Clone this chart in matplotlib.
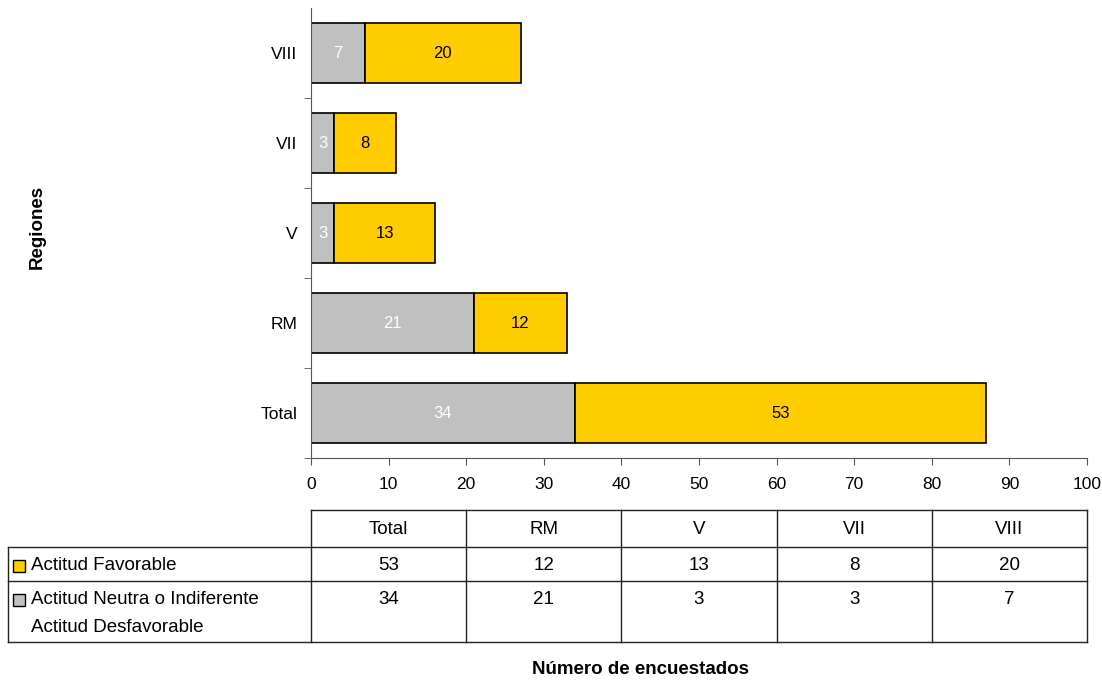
import matplotlib.pyplot as plt
import numpy as np

plt.rcParams['font.family'] = ['Liberation Sans', 'DejaVu Sans']

# datos
regiones = ['Total', 'RM', 'V', 'VII', 'VIII']
favorable = [53, 12, 13, 8, 20]
neutra = [34, 21, 3, 3, 7]
serie_fav = 'Actitud Favorable'
serie_neu = ['Actitud Neutra o Indiferente', 'Actitud Desfavorable']

c_fav = '#FFCC00'
c_neu = '#C0C0C0'

W, H = 1102, 680
fig = plt.figure(figsize=(W / 100, H / 100), dpi=100)

# ejes del gráfico (en píxeles)
x0, x1 = 311, 1087
y_top, y_bot = 8, 458
ax = fig.add_axes([x0 / W, 1 - y_bot / H, (x1 - x0) / W, (y_bot - y_top) / H])

pos = np.arange(len(regiones))
alto = 0.67
b1 = ax.barh(pos, neutra, height=alto, color=c_neu, edgecolor='black', linewidth=1.2)
b2 = ax.barh(pos, favorable, left=neutra, height=alto, color=c_fav, edgecolor='black', linewidth=1.2)
ax.bar_label(b1, labels=[str(v) for v in neutra], label_type='center', color='white', fontsize=12)
ax.bar_label(b2, labels=[str(v) for v in favorable], label_type='center', color='black', fontsize=12)

ax.set_xlim(0, 100)
ax.set_ylim(-0.5, len(regiones) - 0.5)
ax.set_xticks(np.arange(0, 101, 10))
ax.set_yticks(pos)
ax.set_yticklabels(regiones)
ax.set_yticks(np.arange(-0.5, len(regiones) - 0.5, 1.0), minor=True)
ax.tick_params(axis='y', which='major', length=0, pad=10, labelsize=12.5)
ax.tick_params(axis='y', which='minor', length=5, color='#555555')
ax.tick_params(axis='x', length=5, color='#555555', labelsize=12.5, pad=9)
for s in ['top', 'right']:
    ax.spines[s].set_visible(False)
ax.spines['left'].set_color('#555555')
ax.spines['bottom'].set_color('#555555')

fig.text(37 / W, 1 - 227 / H, 'Regiones', rotation=90, fontsize=13.5, fontweight='bold',
         ha='center', va='center')
fig.text(641 / W, 1 - 670 / H, 'Número de encuestados', fontsize=13.5, fontweight='bold',
         ha='center', va='center')

# tabla de datos (en píxeles)
tb = fig.add_axes([0, 0, 1, 1])
tb.set_xlim(0, W)
tb.set_ylim(H, 0)
tb.axis('off')

col_w = (x1 - x0) / len(regiones)
cols = [x0 + i * col_w for i in range(len(regiones) + 1)]
r0, r1, r2, r3 = 510, 547, 581, 642
xl = 8
lw = 1.0
lc = '#222222'
# líneas horizontales
tb.plot([x0, x1], [r0, r0], color=lc, lw=lw)
for r in (r1, r2, r3):
    tb.plot([xl, x1], [r, r], color=lc, lw=lw)
# líneas verticales
tb.plot([xl, xl], [r1, r3], color=lc, lw=lw)
for c in cols:
    tb.plot([c, c], [r0, r3], color=lc, lw=lw)

fs = 13.5
for i, reg in enumerate(regiones):
    cx = (cols[i] + cols[i + 1]) / 2
    tb.text(cx, (r0 + r1) / 2 + 1, reg, ha='center', va='center', fontsize=fs)
    tb.text(cx, (r1 + r2) / 2 + 1, str(favorable[i]), ha='center', va='center', fontsize=fs)
    tb.text(cx, 599, str(neutra[i]), ha='center', va='center', fontsize=fs)

# leyenda dentro de la tabla
tb.add_patch(plt.Rectangle((13, 560), 12, 12, facecolor=c_fav, edgecolor='black', lw=1))
tb.add_patch(plt.Rectangle((13, 594), 12, 12, facecolor=c_neu, edgecolor='black', lw=1))
tb.text(31, 566, serie_fav, ha='left', va='center', fontsize=fs)
tb.text(31, 600, serie_neu[0], ha='left', va='center', fontsize=fs)
tb.text(31, 627, serie_neu[1], ha='left', va='center', fontsize=fs)

plt.savefig('out.png', dpi=100)
